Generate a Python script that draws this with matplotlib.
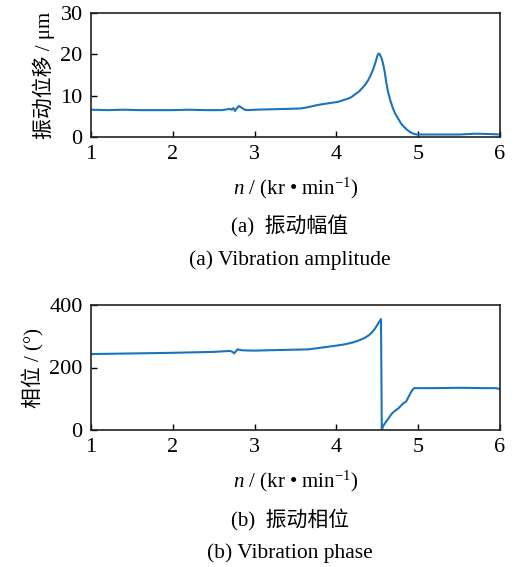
import matplotlib
matplotlib.use("Agg")
import matplotlib.pyplot as plt

plt.rcParams['font.family'] = ['Liberation Serif', 'Noto Sans CJK SC']
plt.rcParams['mathtext.fontset'] = 'custom'
plt.rcParams['mathtext.rm'] = 'Liberation Serif'
plt.rcParams['mathtext.it'] = 'Liberation Serif:italic'

# (a) vibration amplitude
amp_n = [1.0, 1.2, 1.4, 1.6, 1.8, 2.0, 2.2, 2.4, 2.6, 2.70, 2.72, 2.74, 2.76, 2.78,
         2.81, 2.84, 2.88, 2.92, 3.0, 3.2, 3.4, 3.56, 3.65, 3.76, 3.85, 3.95, 4.02,
         4.08, 4.13, 4.18, 4.22, 4.27, 4.31, 4.35, 4.39, 4.42, 4.45, 4.48, 4.50,
         4.515, 4.53, 4.55, 4.57, 4.59, 4.61, 4.63, 4.66, 4.69, 4.72, 4.75, 4.78,
         4.80, 4.83, 4.86, 4.90, 4.94, 4.98, 5.1, 5.3, 5.5, 5.7, 5.9, 6.0]
amp_v = [6.6, 6.5, 6.6, 6.5, 6.5, 6.5, 6.6, 6.5, 6.5, 6.8, 6.6, 7.0, 6.3, 6.9,
         7.5, 7.1, 6.6, 6.5, 6.6, 6.7, 6.8, 6.9, 7.2, 7.7, 8.0, 8.3, 8.5,
         8.9, 9.2, 9.6, 10.2, 10.9, 11.7, 12.6, 13.8, 15.0, 16.4, 18.2, 19.6,
         20.2, 20.0, 19.2, 17.8, 15.8, 13.2, 11.0, 8.8, 7.0, 5.6, 4.6, 3.6,
         3.0, 2.4, 1.8, 1.2, 0.8, 0.6, 0.6, 0.6, 0.6, 0.8, 0.7, 0.6]

# (b) vibration phase
ph_n = [1.0, 1.5, 2.0, 2.5, 2.70, 2.73, 2.75, 2.79, 2.85, 3.0, 3.3, 3.66, 3.8, 4.0,
        4.1, 4.2, 4.28, 4.34, 4.39, 4.43, 4.47, 4.50, 4.52, 4.545, 4.555, 4.57,
        4.60, 4.64, 4.67, 4.70, 4.73, 4.76, 4.79, 4.82, 4.85, 4.87, 4.89, 4.91,
        4.93, 4.95, 5.2, 5.5, 5.8, 5.95, 6.0]
ph_v = [243, 245, 247, 250, 253, 250, 245, 258, 255, 254, 256, 258, 263, 270,
        274, 280, 287, 294, 302, 311, 324, 336, 345, 355, 0, 12,
        24, 38, 50, 58, 64, 70, 78, 86, 90, 100, 110, 120,
        128, 134, 134, 135, 134, 134, 131]

color = '#1a74bb'

fig = plt.figure(figsize=(5.17, 5.67), dpi=100)
W, H = 517, 567
ax1 = fig.add_axes([91 / W, 1 - 137 / H, 409 / W, 124 / H])
ax2 = fig.add_axes([91 / W, 1 - 430 / H, 409 / W, 125 / H])

ax1.plot(amp_n, amp_v, color=color, lw=1.5)
ax1.set_xlim(1, 6)
ax1.set_ylim(0, 30)
ax1.set_yticks([0, 10, 20, 30])
ax1.set_ylabel('振动位移 / μm', fontsize=15, labelpad=4)

ax2.plot(ph_n, ph_v, color=color, lw=1.5)
ax2.set_xlim(1, 6)
ax2.set_ylim(0, 400)
ax2.set_yticks([0, 200, 400])
ax2.set_ylabel('相位 / (°)', fontsize=15, labelpad=4)

for ax in (ax1, ax2):
    ax.set_xticks([1, 2, 3, 4, 5, 6])
    ax.tick_params(direction='in', length=4, width=1, labelsize=16, pad=6,
                   top=False, right=False)
    for s in ax.spines.values():
        s.set_linewidth(1.2)
        s.set_color('#222222')
    ax.set_xlabel(r'$n$ / (kr • min$^{-1}$)', fontsize=15, labelpad=8)

fig.text(290 / W, 1 - 226 / H, '(a)  振动幅值', ha='center', va='center', fontsize=15)
fig.text(290 / W, 1 - 260 / H, '(a) Vibration amplitude', ha='center', va='center', fontsize=15.5)
fig.text(290 / W, 1 - 519 / H, '(b)  振动相位', ha='center', va='center', fontsize=15)
fig.text(290 / W, 1 - 553 / H, '(b) Vibration phase', ha='center', va='center', fontsize=15.5)

fig.savefig('out.png', dpi=100, facecolor='white')
